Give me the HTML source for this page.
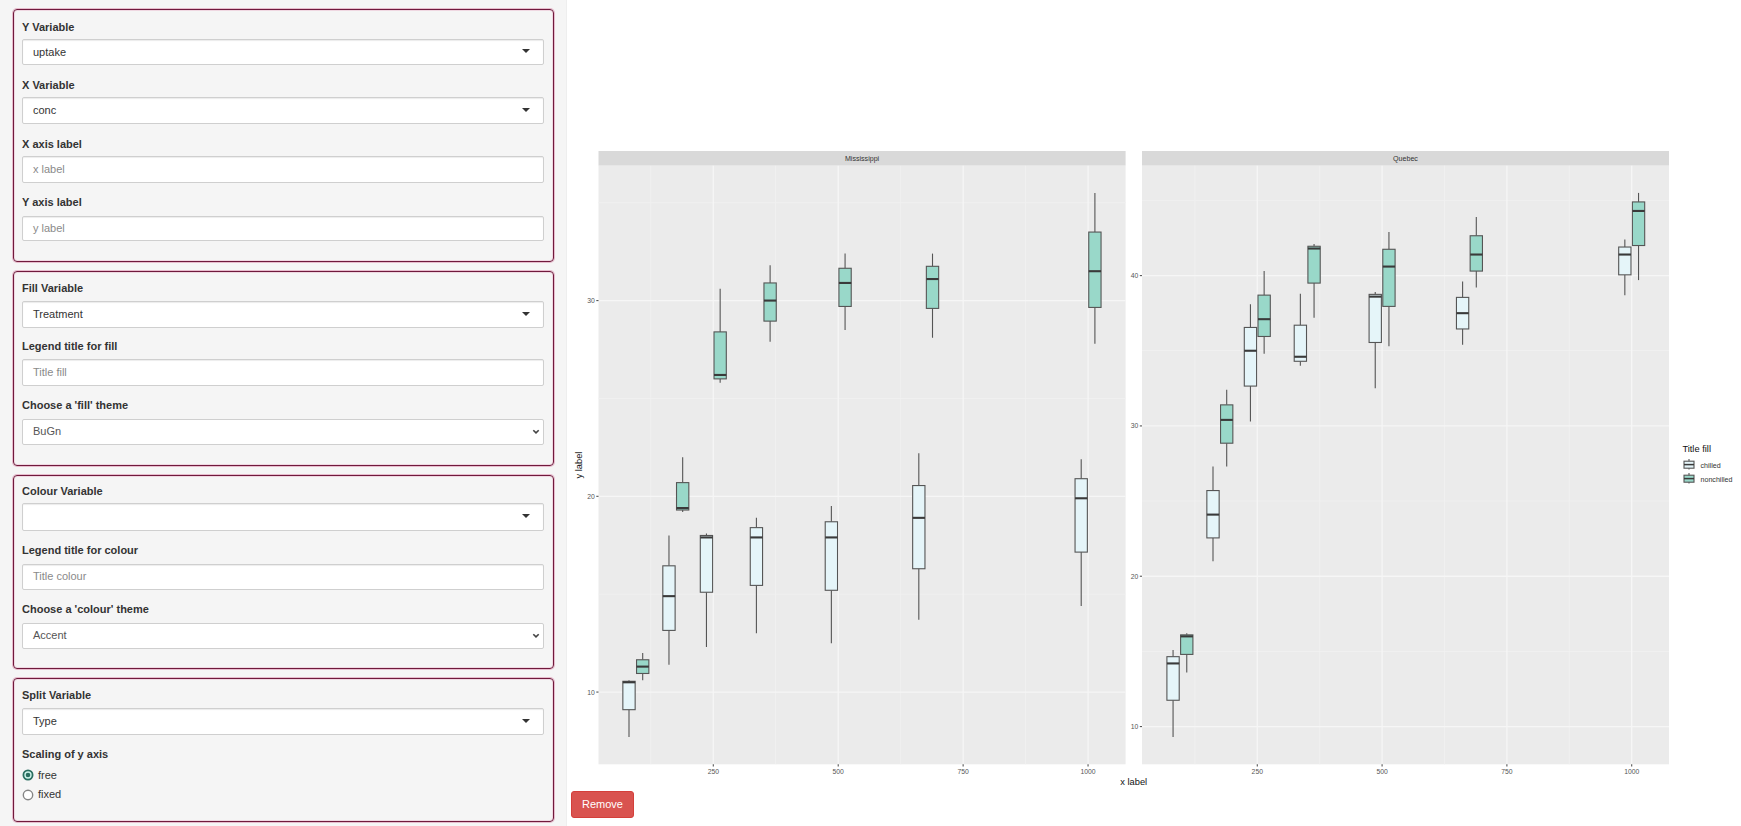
<!DOCTYPE html>
<html><head><meta charset="utf-8"><title>Plot builder</title>
<style>
html,body{margin:0;padding:0;}
body{width:1741px;height:826px;overflow:hidden;background:#fff;position:relative;font-family:"Liberation Sans",sans-serif;color:#333;}
.side{position:absolute;left:0;top:0;width:566px;height:826px;background:#f5f5f5;border-right:1px solid #eeeeee;}
.box{position:absolute;left:13px;width:541px;box-sizing:border-box;border:1.6px solid #701a3c;border-radius:4px;
  box-shadow:0 0 0 1px rgba(214,120,158,.45), inset 0 0 0 1px rgba(230,160,188,.35);}
.lb{position:absolute;left:22px;font-size:11px;line-height:13px;font-weight:bold;color:#333;white-space:nowrap;}
.inp{position:absolute;left:22px;width:522px;box-sizing:border-box;background:#fff;border:1px solid #cfcfcf;border-radius:2px;}
.sz{box-shadow:inset 0 1px 1px rgba(0,0,0,.08);}
.tx{box-shadow:inset 0 1px 1px rgba(0,0,0,.075);}
.it{position:absolute;left:10px;font-size:11px;line-height:13px;white-space:nowrap;}
.caret{position:absolute;right:12.8px;width:0;height:0;border-style:solid;border-width:4px 4px 0 4px;border-color:#333 transparent transparent transparent;}
.chev{position:absolute;right:3px;top:9.4px;}
.rad{position:absolute;left:21.8px;}
.rl{position:absolute;left:38px;font-size:11px;line-height:13px;color:#333;}
.plot{position:absolute;left:0;top:0;}
.plot text{font-family:"Liberation Sans",sans-serif;}
.st{font-size:7.1px;fill:#333;text-anchor:middle;}
.ax{font-size:6.8px;fill:#555;}
.at{font-size:9.3px;fill:#111;}
.lg{font-size:7.1px;fill:#333;}
.gM{stroke:#f6f6f6;stroke-width:1.3;}
.gm{stroke:#f1f1f1;stroke-width:0.9;}
.tk{stroke:#555;stroke-width:1.1;}
.bx{stroke:#555;stroke-width:1.1;}
.md{stroke:#3a3a3a;stroke-width:2.1;}
.btn{position:absolute;left:571px;top:791px;width:63px;height:27px;box-sizing:border-box;background:#d9534f;border:1px solid #d43f3a;border-radius:3px;color:#fff;font-size:11px;line-height:25px;text-align:center;font-family:"Liberation Sans",sans-serif;padding:0;}
</style></head>
<body>
<div class="side">
<div class="box" style="top:8.8px;height:253.6px"></div>
<div class="box" style="top:270.8px;height:194.8px"></div>
<div class="box" style="top:474.6px;height:194.4px"></div>
<div class="box" style="top:678.2px;height:144.2px"></div>
<label class="lb" style="top:20.5px">Y Variable</label>
<div class="inp sz" style="top:39.3px;height:26.1px"><span class="it" style="top:5.55px;color:#333">uptake</span><i class="caret" style="top:9.2px"></i></div>
<label class="lb" style="top:78.9px">X Variable</label>
<div class="inp sz" style="top:97.4px;height:26.2px"><span class="it" style="top:5.6px;color:#333">conc</span><i class="caret" style="top:9.25px"></i></div>
<label class="lb" style="top:138.2px">X axis label</label>
<div class="inp tx" style="top:156.2px;height:26.5px"><span class="it" style="top:5.75px;color:#8a8a8a">x label</span></div>
<label class="lb" style="top:196.3px">Y axis label</label>
<div class="inp tx" style="top:215.7px;height:25.8px"><span class="it" style="top:5.4px;color:#8a8a8a">y label</span></div>
<label class="lb" style="top:282.3px">Fill Variable</label>
<div class="inp sz" style="top:301px;height:27.1px"><span class="it" style="top:6.05px;color:#333">Treatment</span><i class="caret" style="top:9.7px"></i></div>
<label class="lb" style="top:340.3px">Legend title for fill</label>
<div class="inp tx" style="top:359px;height:26.6px"><span class="it" style="top:5.8px;color:#8a8a8a">Title fill</span></div>
<label class="lb" style="top:399.3px">Choose a 'fill' theme</label>
<div class="inp ns" style="top:418.6px;height:26.2px"><span class="it" style="top:5.6px;color:#555">BuGn</span><svg class="chev" width="8" height="6" viewBox="0 0 8 6"><path d="M1.3 1.2 L4 3.9 L6.7 1.2" fill="none" stroke="#444" stroke-width="1.6"/></svg></div>
<label class="lb" style="top:485px">Colour Variable</label>
<div class="inp sz" style="top:503.2px;height:27.6px"><i class="caret" style="top:9.95px"></i></div>
<label class="lb" style="top:544.4px">Legend title for colour</label>
<div class="inp tx" style="top:563.7px;height:26.2px"><span class="it" style="top:5.6px;color:#8a8a8a">Title colour</span></div>
<label class="lb" style="top:602.6px">Choose a 'colour' theme</label>
<div class="inp ns" style="top:622.5px;height:26px"><span class="it" style="top:5.5px;color:#555">Accent</span><svg class="chev" width="8" height="6" viewBox="0 0 8 6"><path d="M1.3 1.2 L4 3.9 L6.7 1.2" fill="none" stroke="#444" stroke-width="1.6"/></svg></div>
<label class="lb" style="top:689.2px">Split Variable</label>
<div class="inp sz" style="top:708.2px;height:26.6px"><span class="it" style="top:5.8px;color:#333">Type</span><i class="caret" style="top:9.45px"></i></div>
<label class="lb" style="top:748px">Scaling of y axis</label>
<svg class="rad" style="top:768.8px" width="12" height="12" viewBox="0 0 12 12"><circle cx="6" cy="6" r="4.6" fill="#cdf3ea" stroke="#2a6e60" stroke-width="1.8"/><circle cx="6" cy="6" r="2.3" fill="#2a6e60"/></svg>
<span class="rl" style="top:768.5px">free</span>
<svg class="rad" style="top:788.5px" width="12" height="12" viewBox="0 0 12 12"><circle cx="6" cy="6" r="4.7" fill="#fff" stroke="#858585" stroke-width="1.4"/></svg>
<span class="rl" style="top:788.2px">fixed</span>
</div>
<svg class="plot" width="1741" height="826" viewBox="0 0 1741 826">
<rect x="598.5" y="151" width="527.1" height="14.7" fill="#D9D9D9"/>
<text x="862.05" y="161.2" class="st">Mississippi</text>
<rect x="598.5" y="165.7" width="527.1" height="598.6" fill="#EBEBEB"/>
<line x1="650.84" y1="165.7" x2="650.84" y2="764.3" class="gm"/>
<line x1="775.76" y1="165.7" x2="775.76" y2="764.3" class="gm"/>
<line x1="900.68" y1="165.7" x2="900.68" y2="764.3" class="gm"/>
<line x1="1025.59" y1="165.7" x2="1025.59" y2="764.3" class="gm"/>
<line x1="598.5" y1="594.19" x2="1125.6" y2="594.19" class="gm"/>
<line x1="598.5" y1="398.45" x2="1125.6" y2="398.45" class="gm"/>
<line x1="598.5" y1="202.7" x2="1125.6" y2="202.7" class="gm"/>
<line x1="713.3" y1="165.7" x2="713.3" y2="764.3" class="gM"/>
<line x1="838.22" y1="165.7" x2="838.22" y2="764.3" class="gM"/>
<line x1="963.13" y1="165.7" x2="963.13" y2="764.3" class="gM"/>
<line x1="1088.05" y1="165.7" x2="1088.05" y2="764.3" class="gM"/>
<line x1="598.5" y1="692.07" x2="1125.6" y2="692.07" class="gM"/>
<line x1="598.5" y1="496.32" x2="1125.6" y2="496.32" class="gM"/>
<line x1="598.5" y1="300.57" x2="1125.6" y2="300.57" class="gM"/>
<line x1="713.3" y1="764.3" x2="713.3" y2="766.5" class="tk"/>
<text x="713.3" y="773.9" class="ax" text-anchor="middle">250</text>
<line x1="838.22" y1="764.3" x2="838.22" y2="766.5" class="tk"/>
<text x="838.22" y="773.9" class="ax" text-anchor="middle">500</text>
<line x1="963.13" y1="764.3" x2="963.13" y2="766.5" class="tk"/>
<text x="963.13" y="773.9" class="ax" text-anchor="middle">750</text>
<line x1="1088.05" y1="764.3" x2="1088.05" y2="766.5" class="tk"/>
<text x="1088.05" y="773.9" class="ax" text-anchor="middle">1000</text>
<line x1="596.3" y1="692.07" x2="598.5" y2="692.07" class="tk"/>
<text x="594.9" y="694.57" class="ax" text-anchor="end">10</text>
<line x1="596.3" y1="496.32" x2="598.5" y2="496.32" class="tk"/>
<text x="594.9" y="498.82" class="ax" text-anchor="end">20</text>
<line x1="596.3" y1="300.57" x2="598.5" y2="300.57" class="tk"/>
<text x="594.9" y="303.07" class="ax" text-anchor="end">30</text>
<line x1="629" y1="680.32" x2="629" y2="681.3" class="bx"/>
<line x1="629" y1="709.69" x2="629" y2="737.09" class="bx"/>
<rect x="622.85" y="681.3" width="12.3" height="28.38" fill="#E5F5F9" class="bx"/>
<line x1="622.85" y1="682.28" x2="635.15" y2="682.28" class="md"/>
<line x1="642.7" y1="652.92" x2="642.7" y2="659.77" class="bx"/>
<line x1="642.7" y1="673.47" x2="642.7" y2="680.32" class="bx"/>
<rect x="636.55" y="659.77" width="12.3" height="13.7" fill="#99D8C9" class="bx"/>
<line x1="636.55" y1="666.62" x2="648.85" y2="666.62" class="md"/>
<line x1="668.97" y1="535.47" x2="668.97" y2="565.81" class="bx"/>
<line x1="668.97" y1="630.41" x2="668.97" y2="664.66" class="bx"/>
<rect x="662.82" y="565.81" width="12.3" height="64.6" fill="#E5F5F9" class="bx"/>
<line x1="662.82" y1="596.15" x2="675.12" y2="596.15" class="md"/>
<line x1="682.67" y1="457.17" x2="682.67" y2="482.62" class="bx"/>
<line x1="682.67" y1="510.02" x2="682.67" y2="511.98" class="bx"/>
<rect x="676.52" y="482.62" width="12.3" height="27.4" fill="#99D8C9" class="bx"/>
<line x1="676.52" y1="508.06" x2="688.82" y2="508.06" class="md"/>
<line x1="706.45" y1="533.51" x2="706.45" y2="535.47" class="bx"/>
<line x1="706.45" y1="592.24" x2="706.45" y2="647.05" class="bx"/>
<rect x="700.3" y="535.47" width="12.3" height="56.77" fill="#E5F5F9" class="bx"/>
<line x1="700.3" y1="537.43" x2="712.6" y2="537.43" class="md"/>
<line x1="720.15" y1="288.83" x2="720.15" y2="331.89" class="bx"/>
<line x1="720.15" y1="378.87" x2="720.15" y2="382.79" class="bx"/>
<rect x="714" y="331.89" width="12.3" height="46.98" fill="#99D8C9" class="bx"/>
<line x1="714" y1="374.96" x2="726.3" y2="374.96" class="md"/>
<line x1="756.41" y1="517.85" x2="756.41" y2="527.64" class="bx"/>
<line x1="756.41" y1="585.39" x2="756.41" y2="633.34" class="bx"/>
<rect x="750.26" y="527.64" width="12.3" height="57.75" fill="#E5F5F9" class="bx"/>
<line x1="750.26" y1="537.43" x2="762.56" y2="537.43" class="md"/>
<line x1="770.11" y1="265.34" x2="770.11" y2="282.95" class="bx"/>
<line x1="770.11" y1="321.12" x2="770.11" y2="341.68" class="bx"/>
<rect x="763.96" y="282.95" width="12.3" height="38.17" fill="#99D8C9" class="bx"/>
<line x1="763.96" y1="300.57" x2="776.26" y2="300.57" class="md"/>
<line x1="831.37" y1="506.11" x2="831.37" y2="521.77" class="bx"/>
<line x1="831.37" y1="590.28" x2="831.37" y2="643.13" class="bx"/>
<rect x="825.22" y="521.77" width="12.3" height="68.51" fill="#E5F5F9" class="bx"/>
<line x1="825.22" y1="537.43" x2="837.52" y2="537.43" class="md"/>
<line x1="845.07" y1="253.59" x2="845.07" y2="268.27" class="bx"/>
<line x1="845.07" y1="306.44" x2="845.07" y2="329.93" class="bx"/>
<rect x="838.92" y="268.27" width="12.3" height="38.17" fill="#99D8C9" class="bx"/>
<line x1="838.92" y1="282.95" x2="851.22" y2="282.95" class="md"/>
<line x1="918.81" y1="453.26" x2="918.81" y2="485.55" class="bx"/>
<line x1="918.81" y1="568.75" x2="918.81" y2="619.64" class="bx"/>
<rect x="912.66" y="485.55" width="12.3" height="83.19" fill="#E5F5F9" class="bx"/>
<line x1="912.66" y1="517.85" x2="924.96" y2="517.85" class="md"/>
<line x1="932.51" y1="253.59" x2="932.51" y2="266.31" class="bx"/>
<line x1="932.51" y1="308.4" x2="932.51" y2="337.76" class="bx"/>
<rect x="926.36" y="266.31" width="12.3" height="42.09" fill="#99D8C9" class="bx"/>
<line x1="926.36" y1="279.04" x2="938.66" y2="279.04" class="md"/>
<line x1="1081.2" y1="459.13" x2="1081.2" y2="478.7" class="bx"/>
<line x1="1081.2" y1="552.11" x2="1081.2" y2="605.94" class="bx"/>
<rect x="1075.05" y="478.7" width="12.3" height="73.41" fill="#E5F5F9" class="bx"/>
<line x1="1075.05" y1="498.28" x2="1087.35" y2="498.28" class="md"/>
<line x1="1094.9" y1="192.91" x2="1094.9" y2="232.06" class="bx"/>
<line x1="1094.9" y1="307.42" x2="1094.9" y2="343.64" class="bx"/>
<rect x="1088.75" y="232.06" width="12.3" height="75.36" fill="#99D8C9" class="bx"/>
<line x1="1088.75" y1="271.21" x2="1101.05" y2="271.21" class="md"/>
<rect x="1142" y="151" width="527" height="14.7" fill="#D9D9D9"/>
<text x="1405.5" y="161.2" class="st">Quebec</text>
<rect x="1142" y="165.7" width="527" height="598.6" fill="#EBEBEB"/>
<line x1="1194.89" y1="165.7" x2="1194.89" y2="764.3" class="gm"/>
<line x1="1319.69" y1="165.7" x2="1319.69" y2="764.3" class="gm"/>
<line x1="1444.49" y1="165.7" x2="1444.49" y2="764.3" class="gm"/>
<line x1="1569.29" y1="165.7" x2="1569.29" y2="764.3" class="gm"/>
<line x1="1142" y1="651.4" x2="1669" y2="651.4" class="gm"/>
<line x1="1142" y1="501.08" x2="1669" y2="501.08" class="gm"/>
<line x1="1142" y1="350.75" x2="1669" y2="350.75" class="gm"/>
<line x1="1142" y1="200.43" x2="1669" y2="200.43" class="gm"/>
<line x1="1257.29" y1="165.7" x2="1257.29" y2="764.3" class="gM"/>
<line x1="1382.09" y1="165.7" x2="1382.09" y2="764.3" class="gM"/>
<line x1="1506.89" y1="165.7" x2="1506.89" y2="764.3" class="gM"/>
<line x1="1631.69" y1="165.7" x2="1631.69" y2="764.3" class="gM"/>
<line x1="1142" y1="726.57" x2="1669" y2="726.57" class="gM"/>
<line x1="1142" y1="576.24" x2="1669" y2="576.24" class="gM"/>
<line x1="1142" y1="425.92" x2="1669" y2="425.92" class="gM"/>
<line x1="1142" y1="275.59" x2="1669" y2="275.59" class="gM"/>
<line x1="1257.29" y1="764.3" x2="1257.29" y2="766.5" class="tk"/>
<text x="1257.29" y="773.9" class="ax" text-anchor="middle">250</text>
<line x1="1382.09" y1="764.3" x2="1382.09" y2="766.5" class="tk"/>
<text x="1382.09" y="773.9" class="ax" text-anchor="middle">500</text>
<line x1="1506.89" y1="764.3" x2="1506.89" y2="766.5" class="tk"/>
<text x="1506.89" y="773.9" class="ax" text-anchor="middle">750</text>
<line x1="1631.69" y1="764.3" x2="1631.69" y2="766.5" class="tk"/>
<text x="1631.69" y="773.9" class="ax" text-anchor="middle">1000</text>
<line x1="1139.8" y1="726.57" x2="1142" y2="726.57" class="tk"/>
<text x="1138.4" y="729.07" class="ax" text-anchor="end">10</text>
<line x1="1139.8" y1="576.24" x2="1142" y2="576.24" class="tk"/>
<text x="1138.4" y="578.74" class="ax" text-anchor="end">20</text>
<line x1="1139.8" y1="425.92" x2="1142" y2="425.92" class="tk"/>
<text x="1138.4" y="428.42" class="ax" text-anchor="end">30</text>
<line x1="1139.8" y1="275.59" x2="1142" y2="275.59" class="tk"/>
<text x="1138.4" y="278.09" class="ax" text-anchor="end">40</text>
<line x1="1173.06" y1="649.9" x2="1173.06" y2="656.67" class="bx"/>
<line x1="1173.06" y1="700.26" x2="1173.06" y2="737.09" class="bx"/>
<rect x="1166.91" y="656.67" width="12.3" height="43.59" fill="#E5F5F9" class="bx"/>
<line x1="1166.91" y1="663.43" x2="1179.21" y2="663.43" class="md"/>
<line x1="1186.76" y1="633.37" x2="1186.76" y2="634.87" class="bx"/>
<line x1="1186.76" y1="654.41" x2="1186.76" y2="672.45" class="bx"/>
<rect x="1180.61" y="634.87" width="12.3" height="19.54" fill="#99D8C9" class="bx"/>
<line x1="1180.61" y1="636.37" x2="1192.91" y2="636.37" class="md"/>
<line x1="1213" y1="466.5" x2="1213" y2="490.56" class="bx"/>
<line x1="1213" y1="537.91" x2="1213" y2="561.21" class="bx"/>
<rect x="1206.85" y="490.56" width="12.3" height="47.35" fill="#E5F5F9" class="bx"/>
<line x1="1206.85" y1="514.61" x2="1219.15" y2="514.61" class="md"/>
<line x1="1226.7" y1="389.84" x2="1226.7" y2="404.87" class="bx"/>
<line x1="1226.7" y1="443.2" x2="1226.7" y2="466.5" class="bx"/>
<rect x="1220.55" y="404.87" width="12.3" height="38.33" fill="#99D8C9" class="bx"/>
<line x1="1220.55" y1="419.9" x2="1232.85" y2="419.9" class="md"/>
<line x1="1250.44" y1="304.15" x2="1250.44" y2="327.45" class="bx"/>
<line x1="1250.44" y1="386.08" x2="1250.44" y2="421.41" class="bx"/>
<rect x="1244.29" y="327.45" width="12.3" height="58.63" fill="#E5F5F9" class="bx"/>
<line x1="1244.29" y1="350.75" x2="1256.59" y2="350.75" class="md"/>
<line x1="1264.14" y1="271.08" x2="1264.14" y2="295.13" class="bx"/>
<line x1="1264.14" y1="336.47" x2="1264.14" y2="353.76" class="bx"/>
<rect x="1257.99" y="295.13" width="12.3" height="41.34" fill="#99D8C9" class="bx"/>
<line x1="1257.99" y1="319.18" x2="1270.29" y2="319.18" class="md"/>
<line x1="1300.36" y1="293.63" x2="1300.36" y2="325.2" class="bx"/>
<line x1="1300.36" y1="361.27" x2="1300.36" y2="365.78" class="bx"/>
<rect x="1294.21" y="325.2" width="12.3" height="36.08" fill="#E5F5F9" class="bx"/>
<line x1="1294.21" y1="356.76" x2="1306.51" y2="356.76" class="md"/>
<line x1="1314.06" y1="244.02" x2="1314.06" y2="246.27" class="bx"/>
<line x1="1314.06" y1="283.1" x2="1314.06" y2="317.68" class="bx"/>
<rect x="1307.91" y="246.27" width="12.3" height="36.83" fill="#99D8C9" class="bx"/>
<line x1="1307.91" y1="248.53" x2="1320.21" y2="248.53" class="md"/>
<line x1="1375.24" y1="292.12" x2="1375.24" y2="294.38" class="bx"/>
<line x1="1375.24" y1="342.48" x2="1375.24" y2="388.33" class="bx"/>
<rect x="1369.09" y="294.38" width="12.3" height="48.1" fill="#E5F5F9" class="bx"/>
<line x1="1369.09" y1="296.63" x2="1381.39" y2="296.63" class="md"/>
<line x1="1388.94" y1="231.99" x2="1388.94" y2="249.28" class="bx"/>
<line x1="1388.94" y1="306.41" x2="1388.94" y2="346.24" class="bx"/>
<rect x="1382.79" y="249.28" width="12.3" height="57.12" fill="#99D8C9" class="bx"/>
<line x1="1382.79" y1="266.57" x2="1395.09" y2="266.57" class="md"/>
<line x1="1462.6" y1="281.6" x2="1462.6" y2="297.39" class="bx"/>
<line x1="1462.6" y1="328.95" x2="1462.6" y2="344.74" class="bx"/>
<rect x="1456.45" y="297.39" width="12.3" height="31.57" fill="#E5F5F9" class="bx"/>
<line x1="1456.45" y1="313.17" x2="1468.75" y2="313.17" class="md"/>
<line x1="1476.3" y1="216.96" x2="1476.3" y2="235.75" class="bx"/>
<line x1="1476.3" y1="271.08" x2="1476.3" y2="287.61" class="bx"/>
<rect x="1470.15" y="235.75" width="12.3" height="35.33" fill="#99D8C9" class="bx"/>
<line x1="1470.15" y1="254.54" x2="1482.45" y2="254.54" class="md"/>
<line x1="1624.84" y1="239.51" x2="1624.84" y2="247.03" class="bx"/>
<line x1="1624.84" y1="274.84" x2="1624.84" y2="295.13" class="bx"/>
<rect x="1618.69" y="247.03" width="12.3" height="27.81" fill="#E5F5F9" class="bx"/>
<line x1="1618.69" y1="254.54" x2="1630.99" y2="254.54" class="md"/>
<line x1="1638.54" y1="192.91" x2="1638.54" y2="201.93" class="bx"/>
<line x1="1638.54" y1="245.52" x2="1638.54" y2="280.1" class="bx"/>
<rect x="1632.39" y="201.93" width="12.3" height="43.59" fill="#99D8C9" class="bx"/>
<line x1="1632.39" y1="210.95" x2="1644.69" y2="210.95" class="md"/>
<text x="1133.75" y="784.6" class="at" text-anchor="middle">x label</text>
<text transform="translate(581.6 465) rotate(-90)" class="at" text-anchor="middle">y label</text>
<text x="1682.4" y="452.3" class="at">Title fill</text>
<line x1="1689" y1="459" x2="1689" y2="469.6" class="bx"/>
<rect x="1684" y="461.2" width="10" height="7" fill="#E5F5F9" class="bx"/>
<line x1="1684" y1="464.6" x2="1694" y2="464.6" class="md" style="stroke-width:1.5"/>
<text x="1700.5" y="467.6" class="lg">chilled</text>
<line x1="1689" y1="473" x2="1689" y2="483.6" class="bx"/>
<rect x="1684" y="475.2" width="10" height="7" fill="#99D8C9" class="bx"/>
<line x1="1684" y1="478.6" x2="1694" y2="478.6" class="md" style="stroke-width:1.5"/>
<text x="1700.5" y="481.6" class="lg">nonchilled</text>
</svg>
<button class="btn">Remove</button>
</body></html>
